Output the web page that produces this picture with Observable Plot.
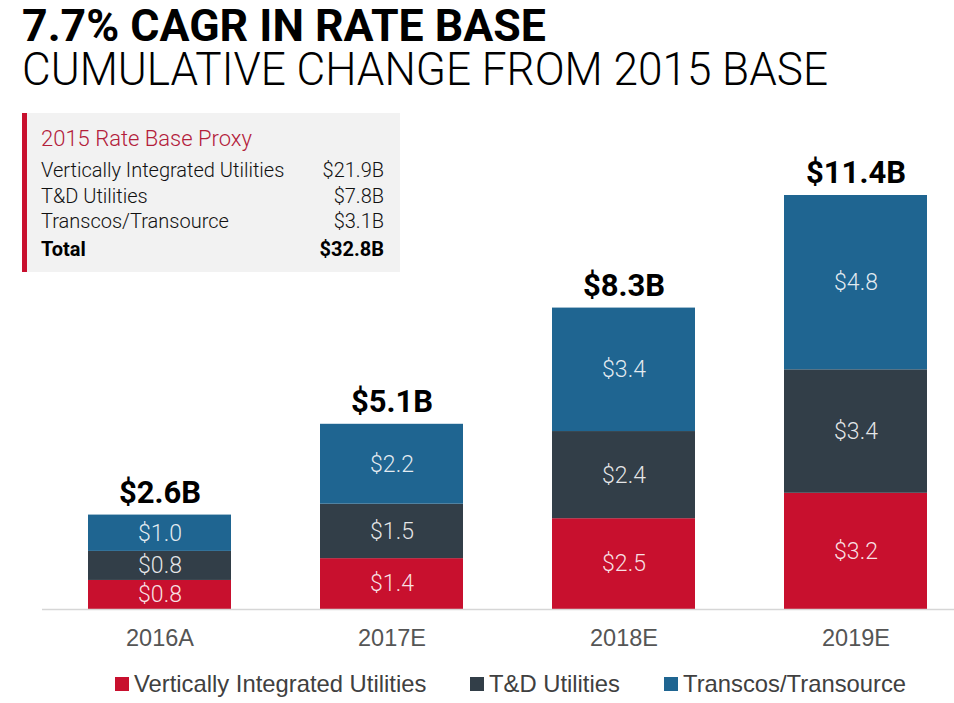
<!DOCTYPE html>
<html>
<head>
<meta charset="utf-8">
<script src="https://cdn.jsdelivr.net/npm/d3@7"></script>
<script src="https://cdn.jsdelivr.net/npm/@observablehq/plot@0.6"></script>
<style>
  html, body { margin: 0; padding: 0; background: #fff; }
  body { width: 954px; height: 703px; position: relative; overflow: hidden; font-family: Roboto, "Liberation Sans", sans-serif; }
  .fit { position: absolute; white-space: nowrap; transform-origin: 0 0; line-height: 0.9; }
  #title { left: 22px; top: 6px; font-size: 45px; font-weight: 700; color: #000; }
  #subtitle { left: 22px; top: 49px; font-size: 46px; font-weight: 300; color: #000; }
  #chart { position: absolute; left: 0; top: 100px; }
  #box { position: absolute; left: 22px; top: 113px; width: 373px; height: 159px; background: #f2f2f2; border-left: 5px solid #c8102e; }
  #box .head { position: absolute; left: 14px; top: 13px; font-size: 22px; font-weight: 300; color: #b3203a; white-space: nowrap; }
  #box .row { position: absolute; left: 14px; width: 343px; font-size: 20px; font-weight: 300; color: #111; display: flex; justify-content: space-between; white-space: nowrap; }
  #box .row.total { font-weight: 700; color: #000; }
  #legend { position: absolute; top: 670px; left: 0; width: 954px; height: 30px; font-family: "Liberation Sans", Arial, sans-serif; font-size: 23.8px; color: #404040; }
  #legend .item { position: absolute; top: 0; white-space: nowrap; display: flex; align-items: center; }
  #legend .sw { width: 14px; height: 14px; margin-right: 5px; display: inline-block; }
</style>
</head>
<body>
<div id="title" class="fit" data-w="524">7.7% CAGR IN RATE BASE</div>
<div id="subtitle" class="fit" data-w="806">CUMULATIVE CHANGE FROM 2015 BASE</div>
<div id="chart"></div>
<div id="box"></div>
<div id="legend"></div>
<script>
// ---- data ----
const years = ["2016A", "2017E", "2018E", "2019E"];
const segments = ["Vertically Integrated Utilities", "T&D Utilities", "Transcos/Transource"];
const verticallyIntegrated = [0.8, 1.4, 2.5, 3.2];
const tdUtilities = [0.8, 1.5, 2.4, 3.4];
const transcos = [1.0, 2.2, 3.4, 4.8];
const totals = [2.6, 5.1, 8.3, 11.4];
const colors = ["#c8102e", "#323e48", "#1f6591"];
const proxyLabels = ["Vertically Integrated Utilities", "T&D Utilities", "Transcos/Transource", "Total"];
const proxyValues = ["$21.9B", "$7.8B", "$3.1B", "$32.8B"];

// ---- table ----
const seriesValues = [verticallyIntegrated, tdUtilities, transcos];
const rows = [];
segments.forEach((s, si) => years.forEach((y, yi) => rows.push({year: y, segment: s, value: seriesValues[si][yi]})));
const totalRows = years.map((y, i) => ({year: y, total: totals[i]}));

const fmt = v => "$" + v.toFixed(1);

const plot = Plot.plot({
  width: 954,
  height: 560,
  marginLeft: 42,
  marginRight: 0,
  marginTop: 95,
  marginBottom: 51,
  style: {fontFamily: "Roboto, sans-serif", background: "transparent"},
  x: {domain: years, paddingInner: 0.3836, paddingOuter: 0.157, align: 0.63, label: null},
  y: {domain: [0, 11.4], axis: null},
  color: {domain: segments, range: colors},
  marks: [
    Plot.barY(rows, {x: "year", y: "value", fill: "segment", order: segments}),
    Plot.text(rows, Plot.stackY({x: "year", y: "value", z: "segment", order: segments, text: d => fmt(d.value), fill: "#fff", fillOpacity: 0.88, fontSize: 23, fontWeight: 300})),
    Plot.text(totalRows, {x: "year", y: "total", text: d => "$" + d.total.toFixed(1) + "B", dy: -22, fontSize: 31, fontWeight: 700, fill: "#000"}),
    Plot.ruleY([0], {stroke: "#d6d6d6", strokeWidth: 1.5}),
    Plot.axisX({tickSize: 0, tickPadding: 20, fontSize: 23.5, fontFamily: "Liberation Sans, Arial, sans-serif", color: "#555", label: null})
  ]
});
document.getElementById("chart").appendChild(plot);

// info box
const box = document.getElementById("box");
const head = document.createElement("div");
head.className = "head";
head.textContent = "2015 Rate Base Proxy";
box.appendChild(head);
const rowTops = [45, 71, 96, 124];
proxyLabels.forEach((l, i) => {
  const r = document.createElement("div");
  r.className = "row" + (i === 3 ? " total" : "");
  r.style.top = rowTops[i] + "px";
  r.innerHTML = "<span></span><span></span>";
  r.children[0].textContent = l;
  r.children[1].textContent = proxyValues[i];
  box.appendChild(r);
});

// legend
const legend = document.getElementById("legend");
const legendX = [115, 470, 664];
segments.forEach((s, i) => {
  const it = document.createElement("div");
  it.className = "item";
  it.style.left = legendX[i] + "px";
  it.innerHTML = '<span class="sw"></span><span></span>';
  it.children[0].style.background = colors[i];
  it.children[1].textContent = s;
  legend.appendChild(it);
});

// fit title widths
document.querySelectorAll(".fit").forEach(el => {
  const target = +el.dataset.w;
  const w = el.getBoundingClientRect().width;
  el.style.transform = `scaleX(${target / w})`;
});
</script>
</body>
</html>
